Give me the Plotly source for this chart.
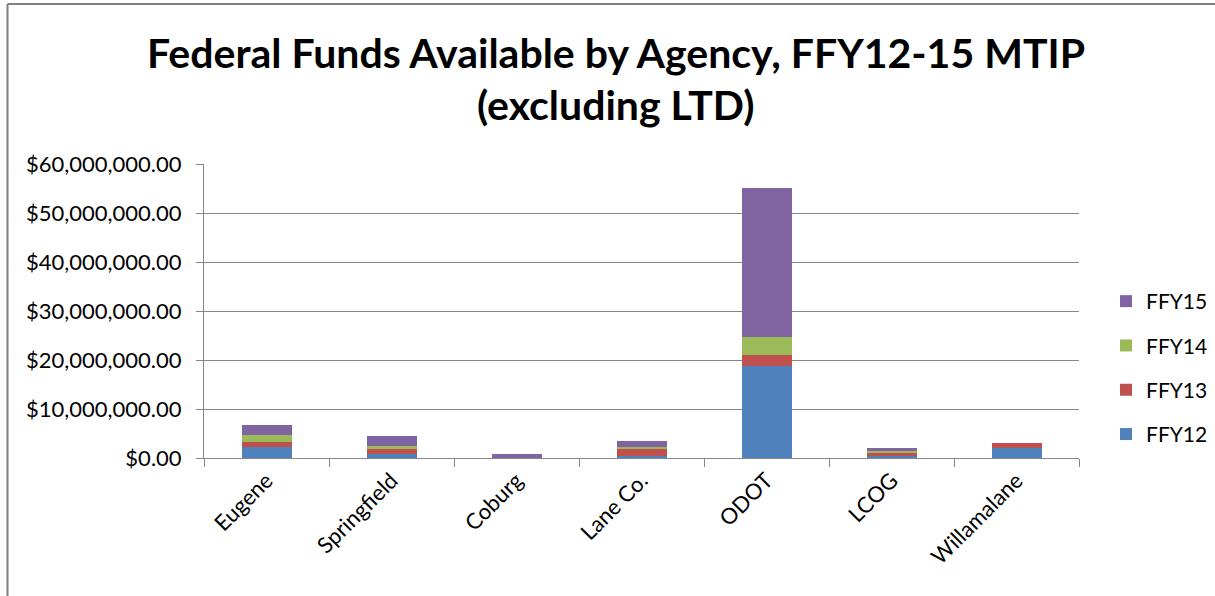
import plotly.graph_objects as go

agencies = ["Eugene", "Springfield", "Coburg", "Lane Co.", "ODOT", "LCOG", "Willamalane"]
ffy12 = [2160000, 820000, 0, 330000, 18840000, 600000, 1960000]
ffy13 = [1020000, 940000, 0, 1630000, 2240000, 400000, 1020000]
ffy14 = [1500000, 750000, 0, 350000, 3670000, 500000, 0]
ffy15 = [2100000, 1980000, 820000, 1160000, 30350000, 550000, 0]

series_names = ["FFY12", "FFY13", "FFY14", "FFY15"]
series_values = [ffy12, ffy13, ffy14, ffy15]
colors = ["#4F81BD", "#C0504D", "#9BBB59", "#8064A2"]

title_line1 = "Federal Funds Available by Agency, FFY12-15 MTIP"
title_line2 = "(excluding LTD)"

font_family = "Lato, 'Open Sans', sans-serif"

fig = go.Figure()
n = len(series_names)
for i, (name, vals, col) in enumerate(zip(series_names, series_values, colors)):
    fig.add_trace(go.Bar(
        x=agencies, y=vals, name=name, legendgroup=name,
        legendrank=1000 + (n - i),
        marker=dict(color=col, line=dict(width=0)),
    ))

W, H = 1215, 596
L, R, T, B = 204, 136, 164, 138
pw = W - L - R
ph = H - T - B

def px_x(x):
    return (x - L) / pw

def px_y(y):
    return (H - B - y) / ph

title_font = dict(family=font_family, size=41, color="black", weight="bold")

fig.update_layout(
    width=W, height=H,
    barmode="stack", bargap=0.6,
    paper_bgcolor="white", plot_bgcolor="white",
    margin=dict(l=L, r=R, t=T, b=B, autoexpand=False),
    font=dict(family=font_family, size=20, color="black"),
    showlegend=True,
    legend=dict(
        x=px_x(1106), xanchor="left", y=px_y(281), yanchor="top",
        traceorder="grouped", tracegroupgap=14,
        font=dict(size=21, color="black"),
        bgcolor="rgba(0,0,0,0)",
    ),
    xaxis=dict(
        showline=True, linecolor="#868686", linewidth=1,
        ticks="outside", tickson="boundaries", ticklen=8, tickcolor="#868686",
        tickangle=-45, showgrid=False,
        tickfont=dict(size=22, color="black"),
    ),
    yaxis=dict(
        range=[0, 60000000], dtick=10000000, tickformat="$,.2f",
        showline=True, linecolor="#868686", linewidth=1,
        ticks="outside", ticklen=7, tickcolor="#868686",
        showgrid=True, gridcolor="#868686", gridwidth=1,
        zeroline=False,
        tickfont=dict(size=22, color="black"),
        ticklabelstandoff=10,
    ),
    annotations=[
        dict(text=title_line1, xref="paper", yref="paper",
             x=px_x(616), y=px_y(52), xanchor="center", yanchor="middle",
             showarrow=False, font=title_font),
        dict(text=title_line2, xref="paper", yref="paper",
             x=px_x(616), y=px_y(104), xanchor="center", yanchor="middle",
             showarrow=False, font=title_font),
    ],
    shapes=[
        dict(type="line", xref="paper", yref="paper",
             x0=px_x(7.5), x1=px_x(1230), y0=px_y(4), y1=px_y(4),
             line=dict(color="#7f7f7f", width=2)),
        dict(type="line", xref="paper", yref="paper",
             x0=px_x(7.5), x1=px_x(7.5), y0=px_y(4), y1=px_y(610),
             line=dict(color="#7f7f7f", width=2)),
    ],
)

fig.write_html("out.html")
